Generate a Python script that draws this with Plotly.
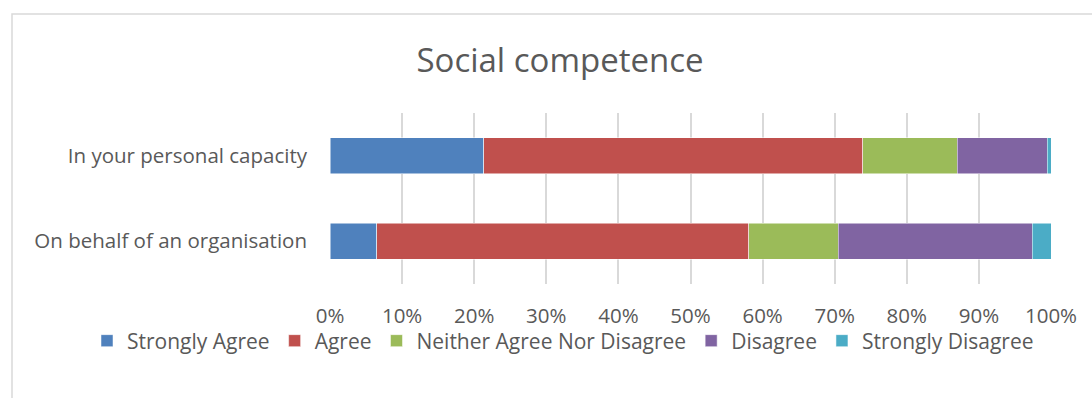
import plotly.graph_objects as go

categories = ["On behalf of an organisation", "In your personal capacity"]
series_names = ["Strongly Agree", "Agree", "Neither Agree Nor Disagree", "Disagree", "Strongly Disagree"]
strongly_agree = [6.5, 21.3]
agree = [51.6, 52.6]
neither = [12.4, 13.1]
disagree = [26.9, 12.5]
strongly_disagree = [2.6, 0.5]
colors = ["#4F81BD", "#C0504D", "#9BBB59", "#8064A2", "#4BACC6"]
x_ticks = [0, 10, 20, 30, 40, 50, 60, 70, 80, 90, 100]
x_tick_labels = [f"{t}%" for t in x_ticks]

values = [strongly_agree, agree, neither, disagree, strongly_disagree]

fig = go.Figure()
for name, vals, col in zip(series_names, values, colors):
    fig.add_trace(go.Bar(
        y=categories, x=vals, name=name, orientation="h",
        marker=dict(color=col, line=dict(width=0.5, color="white")),
    ))

FONT = "Open Sans"
W, H = 1092, 398
T, B = 113, 114
PL, PR = 330, 1051
ph = H - T - B

def px_x(p):
    return p / W

def px_y(p):
    return (H - B - p) / ph

fig.update_layout(
    width=W, height=H,
    margin=dict(l=0, r=0, t=T, b=B, autoexpand=False),
    barmode="stack",
    bargap=0.58,
    plot_bgcolor="white",
    paper_bgcolor="white",
    font=dict(family=FONT, size=20, color="#595959"),
    title=dict(text="Social competence", x=560 / W, y=1 - 60 / H,
               xanchor="center", yanchor="middle",
               font=dict(family=FONT, size=33, color="#595959")),
    legend=dict(orientation="h", x=px_x(563), y=px_y(341),
                xanchor="center", yanchor="middle",
                bgcolor="rgba(0,0,0,0)",
                font=dict(family=FONT, size=21, color="#595959"),
                traceorder="normal"),
    xaxis=dict(domain=[PL / W, PR / W], range=[0, 100],
               tickvals=x_ticks, ticktext=x_tick_labels,
               tickfont=dict(size=20.5),
               showgrid=True, gridcolor="#D9D9D9", gridwidth=1.5,
               zeroline=False, showline=False, ticks="",
               ticklabelstandoff=17, fixedrange=True, automargin=False),
    yaxis=dict(showgrid=False, zeroline=False, showline=False, ticks="",
               tickfont=dict(size=20.5),
               ticklabelstandoff=22, fixedrange=True, automargin=False),
    shapes=[dict(type="rect", xref="paper", yref="paper",
                 x0=px_x(12), x1=px_x(1110), y0=px_y(14), y1=px_y(420),
                 line=dict(color="#D9D9D9", width=1.5), layer="below")],
    showlegend=True,
)

fig.write_html("out.html")
